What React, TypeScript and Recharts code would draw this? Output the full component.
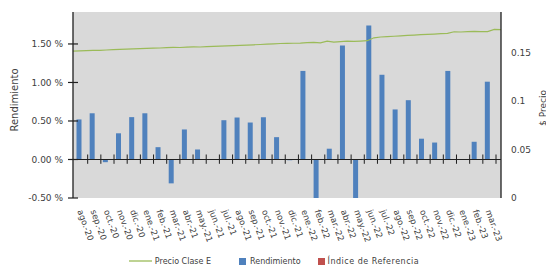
import React from "react";
import {
  ComposedChart,
  Bar,
  Line,
  XAxis,
  YAxis,
  CartesianGrid,
  ReferenceLine,
  Legend,
} from "recharts";

const months = [
  "ago.-20", "sep.-20", "oct.-20", "nov.-20", "dic.-20", "ene.-21", "feb.-21", "mar.-21",
  "abr.-21", "may.-21", "jun.-21", "jul.-21", "ago.-21", "sep.-21", "oct.-21", "nov.-21",
  "dic.-21", "ene.-22", "feb.-22", "mar.-22", "abr.-22", "may.-22", "jun.-22", "jul.-22",
  "ago.-22", "sep.-22", "oct.-22", "nov.-22", "dic.-22", "ene.-23", "feb.-23", "mar.-23",
];

const rendimiento = [
  0.52, 0.6, -0.035, 0.34, 0.55, 0.6, 0.16, -0.31,
  0.39, 0.13, 0.0, 0.51, 0.545, 0.48, 0.55, 0.29,
  -0.01, 1.15, -0.5, 0.14, 1.48, -0.5, 1.74, 1.1,
  0.65, 0.77, 0.27, 0.22, 1.15, 0.0, 0.23, 1.01,
];

const indiceReferencia = [
  0, 0, 0, 0, 0, 0, 0, 0,
  0, 0, 0, 0, 0, 0, 0, 0,
  0, 0, 0, 0, 0, 0, 0, 0,
  0, 0, 0, 0, 0, 0, 0, 0,
];

const precioClaseE = [
  0.1515, 0.1518, 0.152, 0.1522, 0.1523, 0.1526, 0.153, 0.1533,
  0.1535, 0.1538, 0.154, 0.1542, 0.1545, 0.1547, 0.155, 0.1553,
  0.1552, 0.1556, 0.1558, 0.1557, 0.156, 0.1564, 0.1566, 0.1568,
  0.1571, 0.1574, 0.1577, 0.158, 0.1583, 0.1587, 0.159, 0.1593,
  0.1594, 0.1596, 0.1597, 0.1602, 0.1605, 0.16, 0.1618, 0.1607,
  0.1612, 0.1618, 0.1615, 0.1618, 0.1622, 0.1652, 0.166, 0.1664,
  0.1668, 0.1672, 0.1676, 0.168, 0.1684, 0.1687, 0.169, 0.1694,
  0.1697, 0.1714, 0.1712, 0.1715, 0.1718, 0.1716, 0.1715, 0.1738,
  0.1736,
];

const leftTicks = [-0.5, 0, 0.5, 1, 1.5];
const rightTicks = [0, 0.05, 0.1, 0.15];

const data = months.map((m, i) => ({
  month: m,
  rendimiento: rendimiento[i],
  indice: indiceReferencia[i],
}));
const lineData = precioClaseE.map((v, i) => ({ t: i, precio: v }));
const boundaries = months.map((_, i) => i + 1);

const FONT = "DejaVu Sans";
const TXT = "#404040";
const AXIS = "#1f1f1f";
const CHART_W = 546;
const CHART_H = 261;

const XTick = (props: any) => {
  const { x, y, payload } = props;
  return (
    <g transform={`translate(${x - 1},${y}) rotate(70)`}>
      <text x={0} y={0} dy="0.35em" textAnchor="start" fontSize={8.5} fill={TXT} fontFamily={FONT}>
        {payload.value}
      </text>
    </g>
  );
};

const LeftTick = (props: any) => {
  const { x, y, payload } = props;
  const axisX = x + 10;
  return (
    <g>
      <line x1={axisX - 5} x2={axisX + 5} y1={y} y2={y} stroke={AXIS} strokeWidth={1.2} />
      <text x={x} y={y} dy="0.35em" textAnchor="end" fontSize={9} fill={TXT} fontFamily={FONT}>
        {payload.value.toFixed(2) + " %"}
      </text>
    </g>
  );
};

const RightTick = (props: any) => {
  const { x, y, payload } = props;
  return (
    <text x={x} y={y} dy="0.35em" textAnchor="start" fontSize={9} fill={TXT} fontFamily={FONT}>
      {String(payload.value)}
    </text>
  );
};

const titleStyle = (cx: number, cy: number, size: number): React.CSSProperties => ({
  position: "absolute",
  left: cx,
  top: cy,
  transform: "translate(-50%, -50%) rotate(-90deg)",
  whiteSpace: "nowrap",
  fontFamily: FONT,
  fontSize: size,
  lineHeight: 1,
  color: TXT,
  pointerEvents: "none",
});

const LegendContent = () => (
  <div
    style={{
      display: "flex",
      justifyContent: "center",
      alignItems: "center",
      height: 16,
      fontFamily: FONT,
      fontSize: 8,
      color: TXT,
      paddingRight: 14,
      whiteSpace: "nowrap",
    }}
  >
    <svg width={23} height={8} style={{ display: "block" }}>
      <line x1={0} y1={4} x2={23} y2={4} stroke="#9bbb59" strokeWidth={1.3} />
    </svg>
    <span style={{ marginLeft: 3 }}>Precio Clase E</span>
    <span style={{ display: "inline-block", width: 7, height: 7, background: "#4f81bd", marginLeft: 28 }} />
    <span style={{ marginLeft: 4 }}>Rendimiento</span>
    <span style={{ display: "inline-block", width: 7, height: 7, background: "#c0504d", marginLeft: 17 }} />
    <span style={{ marginLeft: 3, letterSpacing: 0.5 }}>Índice de Referencia</span>
  </div>
);

export default function App() {
  return (
    <div style={{ position: "relative", width: CHART_W, height: CHART_H }}>
      <ComposedChart
        width={CHART_W}
        height={CHART_H}
        data={data}
        margin={{ top: 4, right: 0, bottom: 0, left: 0 }}
        barGap={0}
      >
        <CartesianGrid xAxisId="cat" yAxisId="left" fill="#d9d9d9" horizontal={false} vertical={false} />
        <XAxis
          xAxisId="cat"
          dataKey="month"
          interval={0}
          height={55}
          padding={{ left: 1.5, right: 5 }}
          axisLine={false}
          tickLine={false}
          tickSize={0}
          tickMargin={12}
          tick={<XTick />}
        />
        <XAxis
          xAxisId="lineX"
          type="number"
          dataKey="t"
          domain={[0, precioClaseE.length - 1]}
          allowDataOverflow
          hide
        />
        <XAxis
          xAxisId="grid"
          type="number"
          dataKey="t"
          domain={[0, months.length]}
          padding={{ left: 1.5, right: 5 }}
          allowDataOverflow
          hide
        />
        <YAxis
          yAxisId="left"
          width={65}
          domain={[-0.5, 1.915]}
          ticks={leftTicks}
          allowDataOverflow
          axisLine={{ stroke: AXIS, strokeWidth: 1.3 }}
          tickLine={false}
          tickSize={5}
          tickMargin={5}
          tick={<LeftTick />}
        />
        <YAxis
          yAxisId="right"
          orientation="right"
          width={53}
          domain={[0, 0.1918]}
          ticks={rightTicks}
          allowDataOverflow
          axisLine={{ stroke: AXIS, strokeWidth: 1.3 }}
          tickLine={false}
          tickSize={0}
          tickMargin={10}
          tick={<RightTick />}
        />
        <ReferenceLine xAxisId="lineX" yAxisId="left" y={0} stroke={AXIS} strokeWidth={1.2} />
        {boundaries.map((k) => (
          <ReferenceLine
            key={k}
            xAxisId="grid"
            yAxisId="left"
            segment={[
              { x: k, y: -0.056 },
              { x: k, y: 0.065 },
            ]}
            stroke={AXIS}
            strokeWidth={1}
          />
        ))}
        <Bar xAxisId="cat" yAxisId="left" dataKey="rendimiento" fill="#4f81bd" barSize={5} isAnimationActive={false} />
        <Bar xAxisId="cat" yAxisId="left" dataKey="indice" fill="#c0504d" barSize={5} isAnimationActive={false} />
        <Line
          xAxisId="lineX"
          yAxisId="right"
          data={lineData}
          dataKey="precio"
          stroke="#9bbb59"
          strokeWidth={1.2}
          dot={false}
          activeDot={false}
          isAnimationActive={false}
        />
        <Legend verticalAlign="bottom" content={<LegendContent />} wrapperStyle={{ height: 16 }} />
      </ComposedChart>
      <div style={titleStyle(7, 92, 10)}>Rendimiento</div>
      <div style={titleStyle(535, 100, 9)}>$ Precio</div>
    </div>
  );
}
